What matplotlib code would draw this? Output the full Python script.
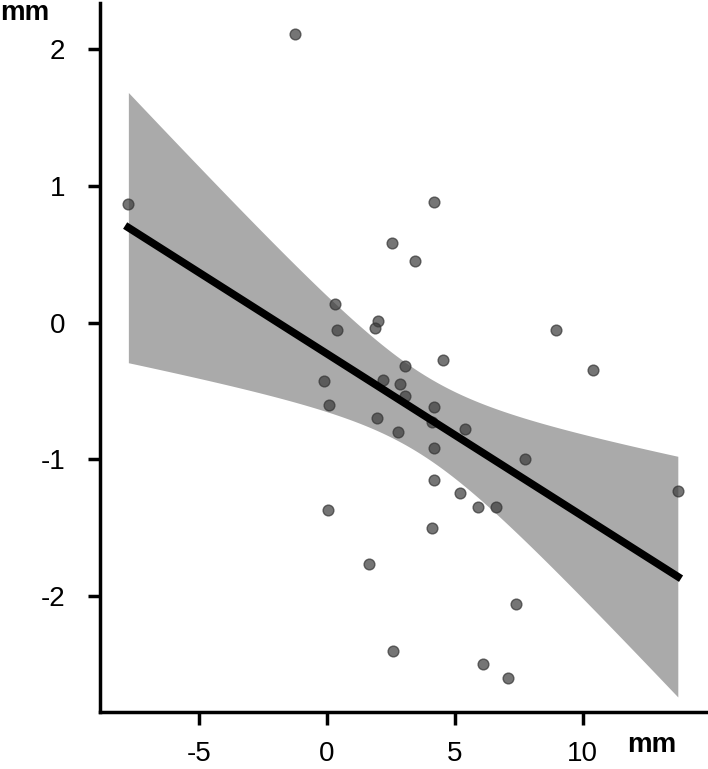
import numpy as np
from matplotlib import pyplot as plt

plt.rcParams['font.family'] = ['Liberation Sans', 'DejaVu Sans']
plt.rcParams['axes.unicode_minus'] = False

# scatter values (mm)
x_vals = [-7.76, -1.25, 4.19, 2.55, 3.46, 8.95, 10.4, 0.31, 0.38, 2.0, 1.88,
          -0.1, 0.1, 1.95, 2.2, 2.85, 3.07, 2.8, 4.54, 4.2, 5.4, 4.2, 4.2,
          5.2, 5.9, 6.6, 7.75, 4.1, 0.05, 1.65, 7.4, 2.6, 6.1, 7.1, 13.72,
          3.05, 4.1]
y_vals = [0.87, 2.11, 0.88, 0.58, 0.45, -0.05, -0.35, 0.14, -0.05, 0.01, -0.04,
          -0.43, -0.6, -0.7, -0.42, -0.45, -0.32, -0.8, -0.27, -0.62, -0.78, -0.92, -1.15,
          -1.25, -1.35, -1.35, -1.0, -1.5, -1.37, -1.77, -2.06, -2.4, -2.5, -2.6, -1.23,
          -0.54, -0.73]
x_ticks = [-5, 0, 5, 10]
y_ticks = [-2, -1, 0, 1, 2]
unit = 'mm'

x = np.array(x_vals)
y = np.array(y_vals)
n = len(x)

# least squares line + 95% confidence band
slope, icpt = np.polyfit(x, y, 1)
xs = np.linspace(x.min(), x.max(), 200)
ys = icpt + slope * xs
resid = y - (icpt + slope * x)
s = np.sqrt(np.sum(resid ** 2) / (n - 2))
t_95 = 2.03
se = s * np.sqrt(1.0 / n + (xs - x.mean()) ** 2 / np.sum((x - x.mean()) ** 2))

fig = plt.figure(figsize=(7.08, 7.69), dpi=100)
ax = fig.add_axes([0.1412, 0.0741, 0.8588, 0.922])

ax.fill_between(xs, ys - t_95 * se, ys + t_95 * se, color='#aaaaaa', lw=0, zorder=1)
ax.scatter(x, y, s=60, color='#3a3a3a', alpha=0.7, edgecolors='#333333', linewidths=1, zorder=2)
ax.plot(xs, ys, color='black', lw=5.5, zorder=3)

ax.set_xlim(-8.87, 14.9)
ax.set_ylim(-2.85, 2.34)
ax.set_xticks(x_ticks)
ax.set_yticks(y_ticks)
ax.set_xticklabels([str(v) for v in x_ticks])
ax.set_yticklabels([str(v) for v in y_ticks])
ax.tick_params(axis='both', direction='out', length=9, width=2.5, labelsize=20, color='black')
ax.tick_params(axis='x', pad=12)
ax.tick_params(axis='y', pad=16)

for pos in ['right', 'top']:
    ax.spines[pos].set_visible(False)
for pos in ['left', 'bottom']:
    ax.spines[pos].set_linewidth(2.5)

fig.text(0.0, 0.974, unit, fontsize=20, fontweight='bold', ha='left', va='baseline')
fig.text(0.956, 0.022, unit, fontsize=20, fontweight='bold', ha='right', va='baseline')

plt.savefig('out.png', dpi=100)
